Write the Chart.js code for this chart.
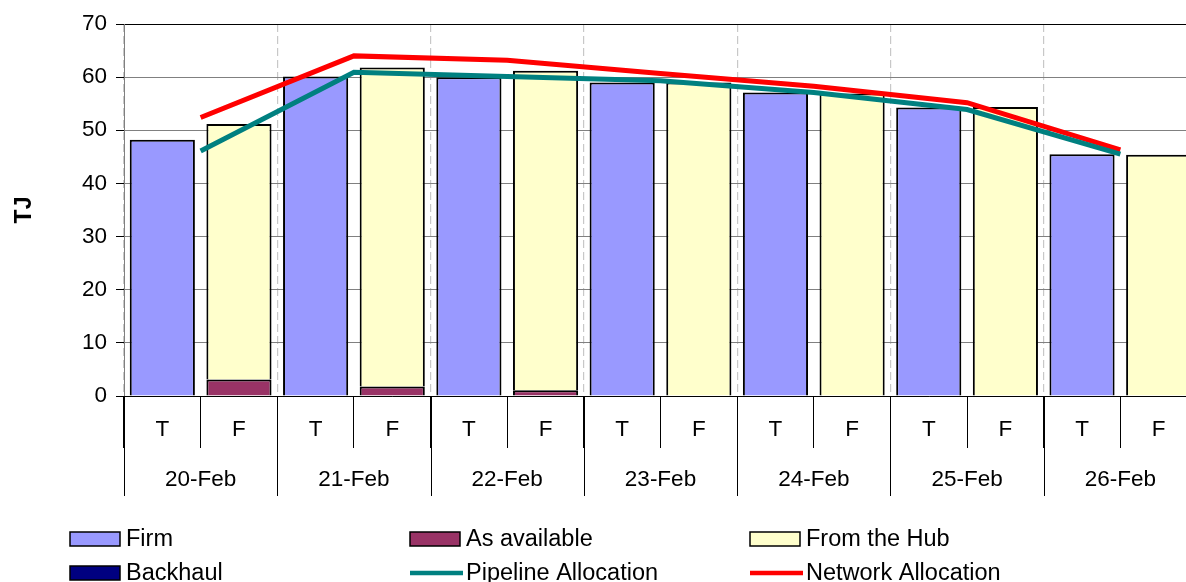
<!DOCTYPE html>
<html lang="en">
<head>
    <meta charset="UTF-8">
    <title>Firm / As available / From the Hub</title>
    <style>
        html, body {
            margin: 0;
            padding: 0;
            background-color: #fff;
            overflow: hidden;
        }
        #chartBox {
            width: 1200px;
            height: 582px;
        }
    </style>
</head>
<body>
    <div id="chartBox">
        <canvas id="flowChart" width="1200" height="582"></canvas>
    </div>

    <script src="https://cdn.jsdelivr.net/npm/chart.js"></script>
    <script>
        // data
        const days = ['20-Feb', '21-Feb', '22-Feb', '23-Feb', '24-Feb', '25-Feb', '26-Feb'];
        const kinds = ['T', 'F'];

        // one value per T/F bar (14 bars)
        const firm        = [48.2, 0, 60.1, 0, 60.0, 0, 59.0, 0, 57.1, 0, 54.3, 0, 45.5, 0];
        const asAvailable = [0, 3.1, 0, 1.8, 0, 1.1, 0, 0, 0, 0, 0, 0, 0, 0];
        const fromHub     = [0, 48.1, 0, 60.0, 0, 60.1, 0, 59.0, 0, 56.9, 0, 54.4, 0, 45.4];
        const backhaul    = [0, 0, 0, 0, 0, 0, 0, 0, 0, 0, 0, 0, 0, 0];

        // one value per day
        const pipelineAlloc = [46.1, 60.9, 60.1, 59.3, 57.1, 53.9, 45.5];
        const networkAlloc  = [52.4, 64.0, 63.2, 60.7, 58.3, 55.2, 46.3];

        const yTicks = [0, 10, 20, 30, 40, 50, 60, 70];

        const barLabels = [];
        days.forEach(() => kinds.forEach(k => barLabels.push(k)));

        const FONT = "'Liberation Sans', Arial, sans-serif";

        // draws the two-row category axis and the legend underneath
        const axisAndLegend = {
            id: 'axisAndLegend',
            afterDraw(chart) {
                const ctx = chart.ctx;
                const xs = chart.scales.x;
                const xd = chart.scales.x2;
                const bottom = chart.chartArea.bottom;

                ctx.save();
                ctx.fillStyle = '#000';
                ctx.font = '22.5px ' + FONT;
                ctx.textAlign = 'center';
                ctx.textBaseline = 'middle';

                barLabels.forEach((lab, i) => {
                    ctx.fillText(lab, xs.getPixelForValue(i), bottom + 34);
                });

                ctx.strokeStyle = '#000';
                ctx.lineWidth = 1;
                for (let i = 0; i <= days.length; i++) {
                    const px = Math.round(xd.getPixelForValue(i - 0.5)) + 0.5;
                    ctx.beginPath();
                    ctx.moveTo(px, bottom);
                    ctx.lineTo(px, bottom + 100);
                    ctx.stroke();
                }
                days.forEach((d, i) => {
                    ctx.fillText(d, xd.getPixelForValue(i), bottom + 84);
                });

                // legend, 3 columns x 2 rows
                const colX = [70, 410, 750];
                const rowY = [539, 573];
                ctx.textAlign = 'left';
                ctx.font = '23.5px ' + FONT;
                chart.data.datasets.forEach((ds, i) => {
                    const x = colX[i % 3];
                    const y = rowY[Math.floor(i / 3)];
                    if (ds.type === 'line') {
                        ctx.strokeStyle = ds.borderColor;
                        ctx.lineWidth = 4.5;
                        ctx.beginPath();
                        ctx.moveTo(x, y);
                        ctx.lineTo(x + 53, y);
                        ctx.stroke();
                    } else {
                        ctx.fillStyle = ds.backgroundColor;
                        ctx.fillRect(x, y - 7, 50, 14);
                        ctx.strokeStyle = '#000';
                        ctx.lineWidth = 1.5;
                        ctx.strokeRect(x, y - 7, 50, 14);
                    }
                    ctx.fillStyle = '#000';
                    ctx.fillText(ds.label, x + 56, y + 1);
                });
                ctx.restore();
            }
        };

        function barSet(label, data, color) {
            return {
                type: 'bar',
                label: label,
                data: data,
                backgroundColor: color,
                borderColor: '#000',
                borderWidth: 2,
                barPercentage: 0.85,
                categoryPercentage: 1,
                grouped: false,
                stack: 'bars',
                xAxisID: 'x',
                order: 1
            };
        }

        function lineSet(label, data, color, stack) {
            return {
                type: 'line',
                label: label,
                data: data,
                borderColor: color,
                backgroundColor: color,
                borderWidth: 5,
                pointRadius: 0,
                tension: 0,
                xAxisID: 'x2',
                stack: stack,
                order: 0
            };
        }

        new Chart(document.getElementById('flowChart').getContext('2d'), {
            data: {
                labels: barLabels,
                datasets: [
                    barSet('Firm', firm, '#9999FF'),
                    barSet('As available', asAvailable, '#993366'),
                    barSet('From the Hub', fromHub, '#FFFFCC'),
                    barSet('Backhaul', backhaul, '#000080'),
                    lineSet('Pipeline Allocation', pipelineAlloc, '#008080', 'pipe'),
                    lineSet('Network Allocation', networkAlloc, '#FF0000', 'net')
                ]
            },
            options: {
                responsive: false,
                animation: false,
                layout: {
                    padding: { top: 24, right: 3, left: 0, bottom: 0 }
                },
                plugins: {
                    legend: { display: false },
                    tooltip: { enabled: false }
                },
                scales: {
                    x: {
                        type: 'category',
                        position: 'bottom',
                        stacked: true,
                        offset: true,
                        ticks: { display: false },
                        grid: {
                            drawOnChartArea: false,
                            drawTicks: true,
                            tickLength: 52,
                            tickColor: '#000',
                            offset: true
                        },
                        border: { color: '#000', width: 1 },
                        afterFit: s => { s.height = 186; }
                    },
                    x2: {
                        type: 'category',
                        position: 'top',
                        labels: days,
                        offset: true,
                        ticks: { display: false },
                        grid: {
                            drawOnChartArea: true,
                            drawTicks: false,
                            color: '#c8c8c8',
                            lineWidth: 1.2,
                            offset: true
                        },
                        border: { display: false, dash: [8, 4] },
                        afterFit: s => { s.height = 0; }
                    },
                    y: {
                        stacked: true,
                        min: 0,
                        max: 70,
                        afterBuildTicks: s => { s.ticks = yTicks.map(v => ({ value: v })); },
                        ticks: {
                            color: '#000',
                            font: { family: FONT, size: 22.5 },
                            padding: 9
                        },
                        grid: {
                            color: c => (c.tick && (c.tick.value === 70)) ? '#000' : '#808080',
                            tickColor: '#000',
                            tickLength: 8,
                            lineWidth: 1
                        },
                        border: { color: '#808080' },
                        title: {
                            display: true,
                            text: 'TJ',
                            color: '#000',
                            font: { family: FONT, size: 23, weight: 'bold' },
                            padding: { top: 11, bottom: 0 }
                        },
                        afterFit: s => { s.width = 124; }
                    }
                }
            },
            plugins: [axisAndLegend]
        });
    </script>
</body>
</html>
